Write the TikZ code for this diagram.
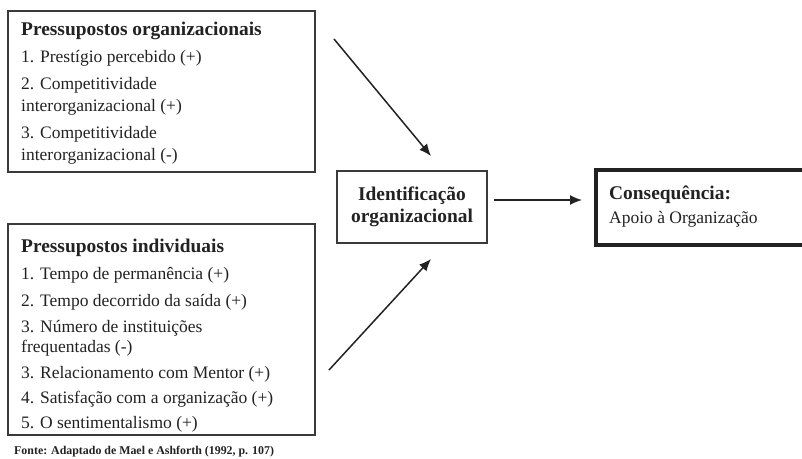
\documentclass[tikz,border=0pt]{standalone}
\usepackage{fontspec}
\setmainfont{Liberation Serif}
\usetikzlibrary{arrows.meta}
\definecolor{ink}{HTML}{222222}
\definecolor{frame}{HTML}{3A3A3A}
\tikzset{
  boxthin/.style={draw=frame, line width=1.1pt},
  boxthick/.style={draw=ink, line width=4.5pt},
  head/.style={anchor=base west, inner sep=0pt, text=ink, font=\fontsize{19.4}{22}\selectfont\bfseries},
  item/.style={anchor=base west, inner sep=0pt, text=ink, font=\fontsize{17.5}{21}\selectfont},
  midhead/.style={anchor=base, inner sep=0pt, text=ink, font=\fontsize{19.4}{22}\selectfont\bfseries},
  src/.style={anchor=base west, inner sep=0pt, text=ink, font=\fontsize{11.9}{13}\selectfont\bfseries},
  conn/.style={draw=ink, line width=1.5pt, -{Latex[length=12pt,width=10pt]}}
}
\begin{document}
\begin{tikzpicture}[x=1pt,y=-1pt]
\useasboundingbox (0,0) rectangle (802,458);
\clip (0,0) rectangle (802,458);
\fill[white] (0,0) rectangle (802,458);
% boxes
\draw[boxthin] (8,11) rectangle (315,172);
\draw[boxthin] (8,224) rectangle (315,435);
\draw[boxthin] (337,171) rectangle (487,243);
\draw[boxthick] (596,170) rectangle (808,245);
% box 1
\node[head] (t1) at (21,35) {Pressupostos organizacionais};
\node[item] (o1) at (21,62) {1. Prestígio percebido (+)};
\node[item] (o2a) at (21,89) {2. Competitividade};
\node[item] (o2b) at (21,111) {interorganizacional (+)};
\node[item] (o3a) at (21,138) {3. Competitividade};
\node[item] (o3b) at (21,160) {interorganizacional (-)};
% box 2
\node[head] (t2) at (21,252) {Pressupostos individuais};
\node[item] (i1) at (21,279) {1. Tempo de permanência (+)};
\node[item] (i2) at (21,306) {2. Tempo decorrido da saída (+)};
\node[item] (i3a) at (21,332) {3. Número de instituições};
\node[item] (i3b) at (21,352) {frequentadas (-)};
\node[item] (i4) at (21,378) {3. Relacionamento com Mentor (+)};
\node[item] (i5) at (21,403) {4. Satisfação com a organização (+)};
\node[item] (i6) at (21,428) {5. O sentimentalismo (+)};
% middle
\node[midhead] (m1) at (412,200) {Identificação};
\node[midhead] (m2) at (412,222) {organizacional};
% consequence
\node[head] (c1) at (609,199) {Consequência:};
\node[item] (c2) at (609,223) {Apoio à Organização};
% source
\node[src] (fonte) at (14,454) {Fonte: Adaptado de Mael e Ashforth (1992, p. 107)};
% connectors
\coordinate (a1s) at (334,39);
\coordinate (a1e) at (431,156);
\coordinate (a2s) at (329,370);
\coordinate (a2e) at (431,259);
\coordinate (a3s) at (494,200);
\coordinate (a3e) at (582,200);
\draw[conn] (a1s) -- (a1e);
\draw[conn] (a2s) -- (a2e);
\draw[conn] (a3s) -- (a3e);
\end{tikzpicture}
\end{document}
